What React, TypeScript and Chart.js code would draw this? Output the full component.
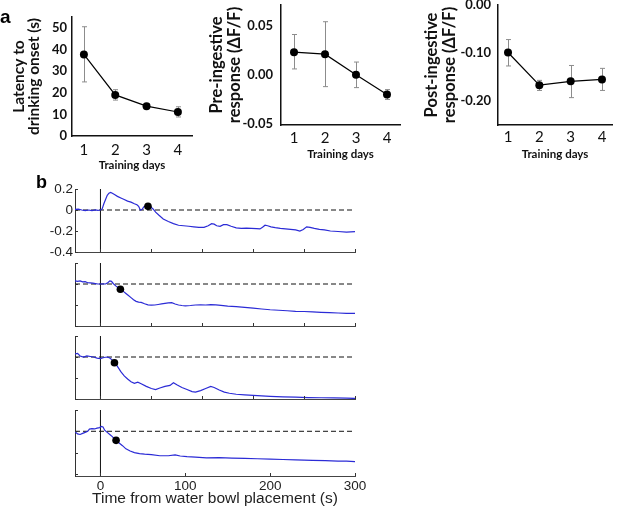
import React, { useEffect, useRef } from "react";
import { Chart, registerables } from "chart.js";

Chart.register(...registerables);

// ---------------- Panel a data ----------------
const trainingDays = [1, 2, 3, 4];

const latencyMean = [37.7, 19.0, 13.8, 11.1];
const latencyLow = [25.0, 16.6, 12.8, 8.8];
const latencyHigh = [50.5, 21.4, 14.8, 13.5];
const latencyTicks = [0, 10, 20, 30, 40, 50];

const preMean = [0.023, 0.021, 0.0, -0.02];
const preLow = [0.006, -0.012, -0.013, -0.025];
const preHigh = [0.041, 0.054, 0.013, -0.015];
const preTicks = [-0.05, 0, 0.05];

const postMean = [-0.099, -0.167, -0.159, -0.155];
const postLow = [-0.127, -0.178, -0.193, -0.178];
const postHigh = [-0.072, -0.157, -0.126, -0.132];
const postTicks = [-0.2, -0.1, 0];

// ---------------- Panel b data (time s, ΔF/F) ----------------
const trace1: [number, number][] = [
  [-30, 0.005], [-26, 0.008], [-22, 0.0], [-18, -0.005], [-14, 0.0], [-10, -0.005], [-6, 0.002], [-3, -0.003], [0, 0.0],
  [2, 0.01], [4, 0.06], [6, 0.1], [8, 0.14], [10, 0.16], [12, 0.168], [14, 0.16], [17, 0.145], [20, 0.13], [24, 0.115],
  [28, 0.1], [32, 0.085], [36, 0.075], [40, 0.06], [43, 0.05], [45, 0.035], [47, 0.0], [49, 0.005], [51, 0.03], [53, 0.04],
  [56, 0.04], [59, 0.03], [62, 0.01], [65, -0.02], [69, -0.05], [74, -0.085], [80, -0.11], [86, -0.13], [92, -0.145], [98, -0.15],
  [104, -0.155], [110, -0.16], [116, -0.165], [122, -0.165], [127, -0.15], [131, -0.13], [134, -0.135], [137, -0.15], [141, -0.155], [145, -0.14],
  [149, -0.14], [154, -0.155], [160, -0.17], [166, -0.175], [172, -0.172], [178, -0.175], [184, -0.178], [188, -0.18], [191, -0.165], [194, -0.145],
  [197, -0.15], [201, -0.16], [206, -0.168], [212, -0.175], [218, -0.18], [224, -0.185], [230, -0.19], [235, -0.2], [239, -0.185], [243, -0.16],
  [247, -0.165], [252, -0.175], [258, -0.185], [264, -0.19], [271, -0.2], [280, -0.205], [290, -0.21], [300, -0.205],
];

const trace2: [number, number][] = [
  [-30, 0.03], [-27, 0.025], [-24, 0.03], [-21, 0.02], [-18, 0.022], [-15, 0.012], [-12, 0.01], [-9, 0.008], [-6, 0.004], [-3, 0.0],
  [0, 0.0], [3, 0.002], [6, 0.0], [9, 0.015], [11, 0.03], [13, 0.025], [15, 0.005], [18, -0.018], [21, -0.035], [24, -0.05],
  [27, -0.07], [30, -0.09], [33, -0.11], [36, -0.13], [39, -0.15], [42, -0.165], [45, -0.172], [48, -0.175], [52, -0.188], [56, -0.198],
  [60, -0.202], [64, -0.2], [68, -0.195], [72, -0.19], [76, -0.185], [80, -0.18], [84, -0.178], [88, -0.19], [92, -0.2], [96, -0.205],
  [100, -0.208], [106, -0.205], [112, -0.2], [118, -0.198], [124, -0.2], [130, -0.196], [136, -0.198], [142, -0.203], [150, -0.21], [160, -0.215],
  [170, -0.222], [180, -0.23], [190, -0.238], [200, -0.245], [210, -0.25], [220, -0.255], [230, -0.26], [240, -0.262], [250, -0.266], [260, -0.27],
  [270, -0.273], [280, -0.276], [290, -0.279], [300, -0.28],
];

const trace3: [number, number][] = [
  [-30, 0.03], [-27, 0.035], [-24, 0.01], [-20, 0.0], [-16, 0.01], [-12, 0.005], [-8, 0.0], [-4, -0.01], [0, -0.015], [4, -0.005],
  [8, 0.0], [11, -0.01], [14, -0.03], [17, -0.055], [20, -0.09], [24, -0.14], [28, -0.18], [32, -0.21], [36, -0.235], [40, -0.25],
  [44, -0.24], [48, -0.255], [54, -0.28], [60, -0.3], [65, -0.31], [70, -0.295], [76, -0.28], [82, -0.27], [86, -0.245], [90, -0.265],
  [96, -0.29], [102, -0.31], [108, -0.33], [112, -0.335], [118, -0.32], [124, -0.3], [130, -0.28], [134, -0.29], [140, -0.315], [146, -0.335],
  [152, -0.345], [160, -0.355], [170, -0.36], [180, -0.365], [190, -0.37], [200, -0.375], [215, -0.38], [230, -0.383], [245, -0.386], [260, -0.388],
  [275, -0.39], [290, -0.392], [300, -0.395],
];

const trace4: [number, number][] = [
  [-30, -0.005], [-27, -0.025], [-24, -0.03], [-21, -0.02], [-18, -0.01], [-15, 0.0], [-13, 0.02], [-10, 0.025], [-7, 0.022], [-4, 0.03],
  [-1, 0.035], [1, 0.045], [3, 0.04], [5, 0.01], [8, -0.01], [11, -0.03], [14, -0.05], [18, -0.085], [22, -0.11], [26, -0.135],
  [30, -0.165], [35, -0.185], [40, -0.2], [46, -0.21], [52, -0.215], [60, -0.22], [70, -0.23], [80, -0.23], [88, -0.222], [94, -0.232],
  [102, -0.238], [112, -0.242], [125, -0.25], [140, -0.248], [155, -0.252], [170, -0.255], [185, -0.258], [200, -0.262], [215, -0.265], [230, -0.268],
  [250, -0.273], [265, -0.276], [280, -0.28], [290, -0.28], [300, -0.285],
];

const onsetTimes = [56, 23.5, 16.5, 18.4];
const onsetValues = [0.035, -0.05, -0.055, -0.085];
const traceYTicks = [-0.4, -0.2, 0, 0.2];
const innerTimeTicks = [0, 60, 120, 180, 240, 300];
const timeTicks = [0, 100, 200, 300];

// ---------------- helpers ----------------
const FONT_A = "Lato, 'Liberation Sans', Arial, sans-serif";
const FONT_B = "'Liberation Sans', Arial, sans-serif";

function fixedScale(size: number, horizontal: boolean) {
  return (s: any) => {
    if (horizontal) s.height = size;
    else s.width = size;
    s.paddingTop = 0;
    s.paddingBottom = 0;
    s.paddingLeft = 0;
    s.paddingRight = 0;
  };
}

function setTicks(values: number[]) {
  return (s: any) => {
    s.ticks = values.map((v) => ({ value: v }));
  };
}

function errorBarPlugin(xs: number[], lo: number[], hi: number[]) {
  return {
    id: "errorBars",
    beforeDatasetsDraw(chart: any) {
      const { ctx } = chart;
      const x = chart.scales.x;
      const y = chart.scales.y;
      ctx.save();
      ctx.strokeStyle = "#8c8c8c";
      ctx.lineWidth = 1;
      ctx.beginPath();
      xs.forEach((d, i) => {
        const px = Math.round(x.getPixelForValue(d)) + 0.5;
        const p1 = y.getPixelForValue(lo[i]);
        const p2 = y.getPixelForValue(hi[i]);
        ctx.moveTo(px, p1);
        ctx.lineTo(px, p2);
        ctx.moveTo(px - 2.5, p1);
        ctx.lineTo(px + 2.5, p1);
        ctx.moveTo(px - 2.5, p2);
        ctx.lineTo(px + 2.5, p2);
      });
      ctx.stroke();
      ctx.restore();
    },
  };
}

function inwardTicksPlugin(xVals: number[], yVals: number[]) {
  return {
    id: "inwardTicks",
    afterDraw(chart: any) {
      const { ctx, chartArea } = chart;
      const x = chart.scales.x;
      const y = chart.scales.y;
      ctx.save();
      ctx.strokeStyle = "#333";
      ctx.lineWidth = 1;
      ctx.beginPath();
      xVals.forEach((v) => {
        const px = Math.round(x.getPixelForValue(v)) + 0.5;
        ctx.moveTo(px, chartArea.bottom);
        ctx.lineTo(px, chartArea.bottom - 3);
      });
      yVals.forEach((v) => {
        const py = Math.round(y.getPixelForValue(v)) + 0.5;
        ctx.moveTo(chartArea.left, py);
        ctx.lineTo(chartArea.left + 3, py);
      });
      ctx.stroke();
      ctx.restore();
    },
  };
}

type APanel = {
  mean: number[];
  low: number[];
  high: number[];
  xmin: number;
  xmax: number;
  ymin: number;
  ymax: number;
  yticks: number[];
  fmt: (v: number) => string;
  title: string[];
  padding: { top: number; right: number; bottom: number; left: number };
  yWidth: number;
  xHeight: number;
  yTickPad: number;
  xTickPad: number;
  xTitlePad: number;
  titlePad: number;
  titleSize: number;
  titleLH: number;
};

function panelAConfig(p: APanel): any {
  return {
    type: "scatter",
    data: {
      datasets: [
        {
          data: trainingDays.map((d, i) => ({ x: d, y: p.mean[i] })),
          showLine: true,
          borderColor: "#000",
          borderWidth: 1.2,
          pointRadius: 4,
          pointBackgroundColor: "#000",
          pointBorderColor: "#000",
          pointBorderWidth: 0,
        },
      ],
    },
    options: {
      responsive: false,
      animation: false,
      events: [],
      layout: { padding: p.padding },
      plugins: { legend: { display: false }, tooltip: { enabled: false } },
      scales: {
        x: {
          type: "linear",
          min: p.xmin,
          max: p.xmax,
          afterBuildTicks: setTicks(trainingDays),
          afterFit: fixedScale(p.xHeight, true),
          grid: { display: false, drawTicks: false },
          border: { display: true, color: "#111", width: 1.5 },
          ticks: {
            padding: p.xTickPad,
            color: "#111",
            font: { family: FONT_A, size: 15 },
            maxRotation: 0,
            autoSkip: false,
            callback: (v: number) => String(v),
          },
          title: {
            display: true,
            text: "Training days",
            color: "#111",
            font: { family: FONT_A, size: 11.5, weight: "bold" },
            padding: { top: 0, bottom: p.xTitlePad },
          },
        },
        y: {
          type: "linear",
          min: p.ymin,
          max: p.ymax,
          afterBuildTicks: setTicks(p.yticks),
          afterFit: fixedScale(p.yWidth, false),
          grid: { display: false, drawTicks: false },
          border: { display: true, color: "#111", width: 1.5 },
          ticks: {
            padding: p.yTickPad,
            color: "#111",
            font: { family: FONT_A, size: 13, weight: "bold" },
            callback: (v: number) => p.fmt(v),
          },
          title: {
            display: true,
            text: p.title,
            color: "#111",
            font: { family: FONT_A, size: p.titleSize, weight: "bold", lineHeight: p.titleLH },
            padding: { top: p.titlePad, bottom: 0 },
          },
        },
      },
    },
    plugins: [errorBarPlugin(trainingDays, p.low, p.high)],
  };
}

type BPanel = {
  trace: [number, number][];
  onsetIndex: number;
  ymin: number;
  ymax: number;
  showYLabels: boolean;
  showXLabels: boolean;
  xTickMarks: number[];
  padding: { top: number; right: number; bottom: number; left: number };
  xHeight: number;
};

function panelBConfig(p: BPanel): any {
  return {
    type: "scatter",
    data: {
      datasets: [
        {
          data: [{ x: onsetTimes[p.onsetIndex], y: onsetValues[p.onsetIndex] }],
          pointRadius: 3.8,
          pointBackgroundColor: "#000",
          pointBorderColor: "#000",
          pointBorderWidth: 0,
          order: 0,
        },
        {
          data: p.trace.map(([t, v]) => ({ x: t, y: v })),
          showLine: true,
          borderColor: "#2b2bd6",
          borderWidth: 1.2,
          pointRadius: 0,
          order: 1,
        },
        {
          data: [
            { x: -30, y: 0 },
            { x: 300, y: 0 },
          ],
          showLine: true,
          borderColor: "#111",
          borderWidth: 1,
          borderDash: [5, 3],
          pointRadius: 0,
          order: 2,
        },
        {
          data: [
            { x: 0, y: p.ymin },
            { x: 0, y: p.ymax },
          ],
          showLine: true,
          borderColor: "#111",
          borderWidth: 1,
          pointRadius: 0,
          order: 3,
        },
      ],
    },
    options: {
      responsive: false,
      animation: false,
      events: [],
      layout: { padding: p.padding },
      plugins: { legend: { display: false }, tooltip: { enabled: false } },
      scales: {
        x: {
          type: "linear",
          min: -30,
          max: 300,
          afterBuildTicks: setTicks(timeTicks),
          afterFit: fixedScale(p.xHeight, true),
          grid: { display: false, drawTicks: false },
          border: { display: true, color: "#444", width: 1 },
          ticks: {
            display: p.showXLabels,
            padding: 2,
            color: "#222",
            font: { family: FONT_B, size: 13.5 },
            maxRotation: 0,
            autoSkip: false,
            callback: (v: number) => String(v),
          },
          title: {
            display: p.showXLabels,
            text: "Time from water bowl placement (s)",
            color: "#222",
            font: { family: FONT_B, size: 15.5 },
            padding: { top: 0, bottom: 2 },
          },
        },
        y: {
          type: "linear",
          min: p.ymin,
          max: p.ymax,
          afterBuildTicks: setTicks(traceYTicks),
          afterFit: fixedScale(75, false),
          grid: { display: false, drawTicks: false },
          border: { display: true, color: "#333", width: 1 },
          ticks: {
            display: p.showYLabels,
            padding: 2,
            color: "#222",
            font: { family: FONT_B, size: 13.5 },
            callback: (v: number) => (v === 0 ? "0" : v.toFixed(1)),
          },
        },
      },
    },
    plugins: [inwardTicksPlugin(p.xTickMarks, traceYTicks)],
  };
}

function ChartBox(props: { left: number; top: number; width: number; height: number; config: () => any }) {
  const ref = useRef<HTMLCanvasElement>(null);
  useEffect(() => {
    const chart = new Chart(ref.current as HTMLCanvasElement, props.config());
    return () => chart.destroy();
  }, []);
  return (
    <canvas
      ref={ref}
      width={props.width}
      height={props.height}
      style={{ position: "absolute", left: props.left, top: props.top, width: props.width, height: props.height }}
    />
  );
}

const fmt2 = (v: number) => (Math.abs(v) < 1e-9 ? "0.00" : v.toFixed(2));

export default function App() {
  return (
    <div style={{ position: "absolute", left: 0, top: 0, width: 617, height: 510, background: "#fff", overflow: "hidden" }}>
      <ChartBox
        left={0}
        top={0}
        width={200}
        height={172}
        config={() =>
          panelAConfig({
            mean: latencyMean,
            low: latencyLow,
            high: latencyHigh,
            xmin: 0.62,
            xmax: 4.45,
            ymin: 0,
            ymax: 55,
            yticks: latencyTicks,
            fmt: (v) => String(v),
            title: ["Latency to", "drinking onset (s)"],
            padding: { top: 17, right: 8, bottom: 0, left: 0 },
            yWidth: 72,
            xHeight: 36,
            yTickPad: 5,
            xTickPad: 5,
            xTitlePad: 0,
            titlePad: 11,
            titleSize: 15.5,
            titleLH: 1.0,
          })
        }
      />
      <ChartBox
        left={200}
        top={0}
        width={210}
        height={165}
        config={() =>
          panelAConfig({
            mean: preMean,
            low: preLow,
            high: preHigh,
            xmin: 0.58,
            xmax: 4.42,
            ymin: -0.051,
            ymax: 0.071,
            yticks: preTicks,
            fmt: fmt2,
            title: ["Pre-ingestive", "response (ΔF/F)"],
            padding: { top: 5, right: 10, bottom: 0, left: 0 },
            yWidth: 81,
            xHeight: 40,
            yTickPad: 8,
            xTickPad: 4,
            xTitlePad: 4,
            titlePad: 8.5,
            titleSize: 16.5,
            titleLH: 1.05,
          })
        }
      />
      <ChartBox
        left={405}
        top={0}
        width={212}
        height={165}
        config={() =>
          panelAConfig({
            mean: postMean,
            low: postLow,
            high: postHigh,
            xmin: 0.68,
            xmax: 4.32,
            ymin: -0.25,
            ymax: 0,
            yticks: postTicks,
            fmt: fmt2,
            title: ["Post-ingestive", "response (ΔF/F)"],
            padding: { top: 5, right: 5, bottom: 0, left: 0 },
            yWidth: 93,
            xHeight: 40,
            yTickPad: 7,
            xTickPad: 3,
            xTitlePad: 4,
            titlePad: 17.5,
            titleSize: 16.5,
            titleLH: 1.1,
          })
        }
      />
      <ChartBox
        left={0}
        top={178}
        width={375}
        height={86}
        config={() =>
          panelBConfig({
            trace: trace1,
            onsetIndex: 0,
            ymin: -0.4,
            ymax: 0.2,
            showYLabels: true,
            showXLabels: false,
            xTickMarks: innerTimeTicks,
            padding: { top: 11, right: 20, bottom: 0, left: 0 },
            xHeight: 12,
          })
        }
      />
      <ChartBox
        left={0}
        top={255}
        width={375}
        height={80}
        config={() =>
          panelBConfig({
            trace: trace2,
            onsetIndex: 1,
            ymin: -0.4,
            ymax: 0.2,
            showYLabels: false,
            showXLabels: false,
            xTickMarks: innerTimeTicks,
            padding: { top: 8, right: 20, bottom: 0, left: 0 },
            xHeight: 9,
          })
        }
      />
      <ChartBox
        left={0}
        top={328}
        width={375}
        height={80}
        config={() =>
          panelBConfig({
            trace: trace3,
            onsetIndex: 2,
            ymin: -0.4,
            ymax: 0.2,
            showYLabels: false,
            showXLabels: false,
            xTickMarks: innerTimeTicks,
            padding: { top: 8, right: 20, bottom: 0, left: 0 },
            xHeight: 9,
          })
        }
      />
      <ChartBox
        left={0}
        top={400}
        width={375}
        height={110}
        config={() =>
          panelBConfig({
            trace: trace4,
            onsetIndex: 3,
            ymin: -0.42,
            ymax: 0.2,
            showYLabels: false,
            showXLabels: true,
            xTickMarks: timeTicks,
            padding: { top: 10, right: 20, bottom: 0, left: 0 },
            xHeight: 34,
          })
        }
      />
      <div
        style={{
          position: "absolute",
          left: 0,
          top: 7,
          fontFamily: FONT_B,
          fontWeight: "bold",
          fontSize: 19,
          lineHeight: "19px",
          color: "#000",
        }}
      >
        a
      </div>
      <div
        style={{
          position: "absolute",
          left: 36,
          top: 173,
          fontFamily: FONT_B,
          fontWeight: "bold",
          fontSize: 18,
          lineHeight: "18px",
          color: "#000",
        }}
      >
        b
      </div>
    </div>
  );
}
